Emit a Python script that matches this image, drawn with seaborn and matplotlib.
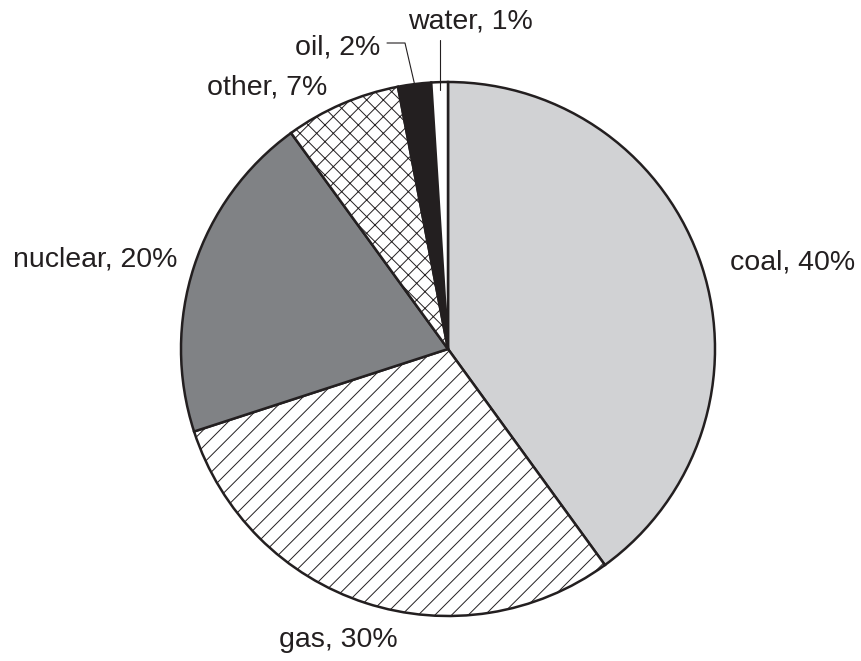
import matplotlib
matplotlib.use("Agg")
import matplotlib.pyplot as plt
import seaborn as sns
import numpy as np

# ---------------------------------------------------------------------------
# Data
# ---------------------------------------------------------------------------
sources = ["coal", "gas", "nuclear", "other", "oil", "water"]
shares = [40, 30, 20, 7, 2, 1]

colors = ["#d1d2d4", "white", "#808285", "white", "#231f20", "white"]
hatches = ["", "//", "", "xx", "", ""]

INK = "#231f20"

# figure geometry (pixels)
W, H = 862, 661
CX, CY, R = 448, 349, 267


def px(x, y):
    """Pixel position -> data coords (pie radius = 1)."""
    return (x - CX) / R, (CY - y) / R


def mid_point(w, r):
    a = np.deg2rad((w.theta1 + w.theta2) / 2)
    return r * np.cos(a), r * np.sin(a)


sns.set_theme(style="white")
plt.rcParams["font.family"] = ["Liberation Sans", "DejaVu Sans"]
plt.rcParams["hatch.linewidth"] = 0.7

fig = plt.figure(figsize=(W / 100, H / 100), dpi=100)
ax = fig.add_axes([0, 0, 1, 1])

wedges, _ = ax.pie(
    shares,
    colors=colors,
    startangle=90,
    counterclock=False,
    radius=1,
    wedgeprops=dict(edgecolor=INK, linewidth=1.8),
)
for w, h in zip(wedges, hatches):
    w.set_hatch(h)

ax.set_xlim(-CX / R, (W - CX) / R)
ax.set_ylim(-(H - CY) / R, CY / R)
ax.set_aspect("equal")
ax.axis("off")

# ---- labels ---------------------------------------------------------------
fs = 20.5
labels = [f"{s}, {v}%" for s, v in zip(sources, shares)]
ax.text(*px(730, 263), labels[0], ha="left", va="center", fontsize=fs, color=INK)
ax.text(*px(338, 640), labels[1], ha="center", va="center", fontsize=fs, color=INK)
ax.text(*px(177, 260), labels[2], ha="right", va="center", fontsize=fs, color=INK)
ax.text(*px(327, 87), labels[3], ha="right", va="center", fontsize=fs, color=INK)
ax.text(*px(380, 47), labels[4], ha="right", va="center", fontsize=fs, color=INK)
ax.text(*px(470, 22), labels[5], ha="center", va="center", fontsize=fs, color=INK)

# ---- leader lines for the small slices -------------------------------------
ox, oy = mid_point(wedges[4], 1.0)
ax.plot([ox, px(405, 43)[0], px(387, 43)[0]],
        [oy, px(405, 43)[1], px(387, 43)[1]], color=INK, lw=0.8)

wx, wy = mid_point(wedges[5], 0.97)
ax.plot([wx, wx], [wy, px(0, 40)[1]], color=INK, lw=0.8)

fig.savefig("out.png", dpi=100)
